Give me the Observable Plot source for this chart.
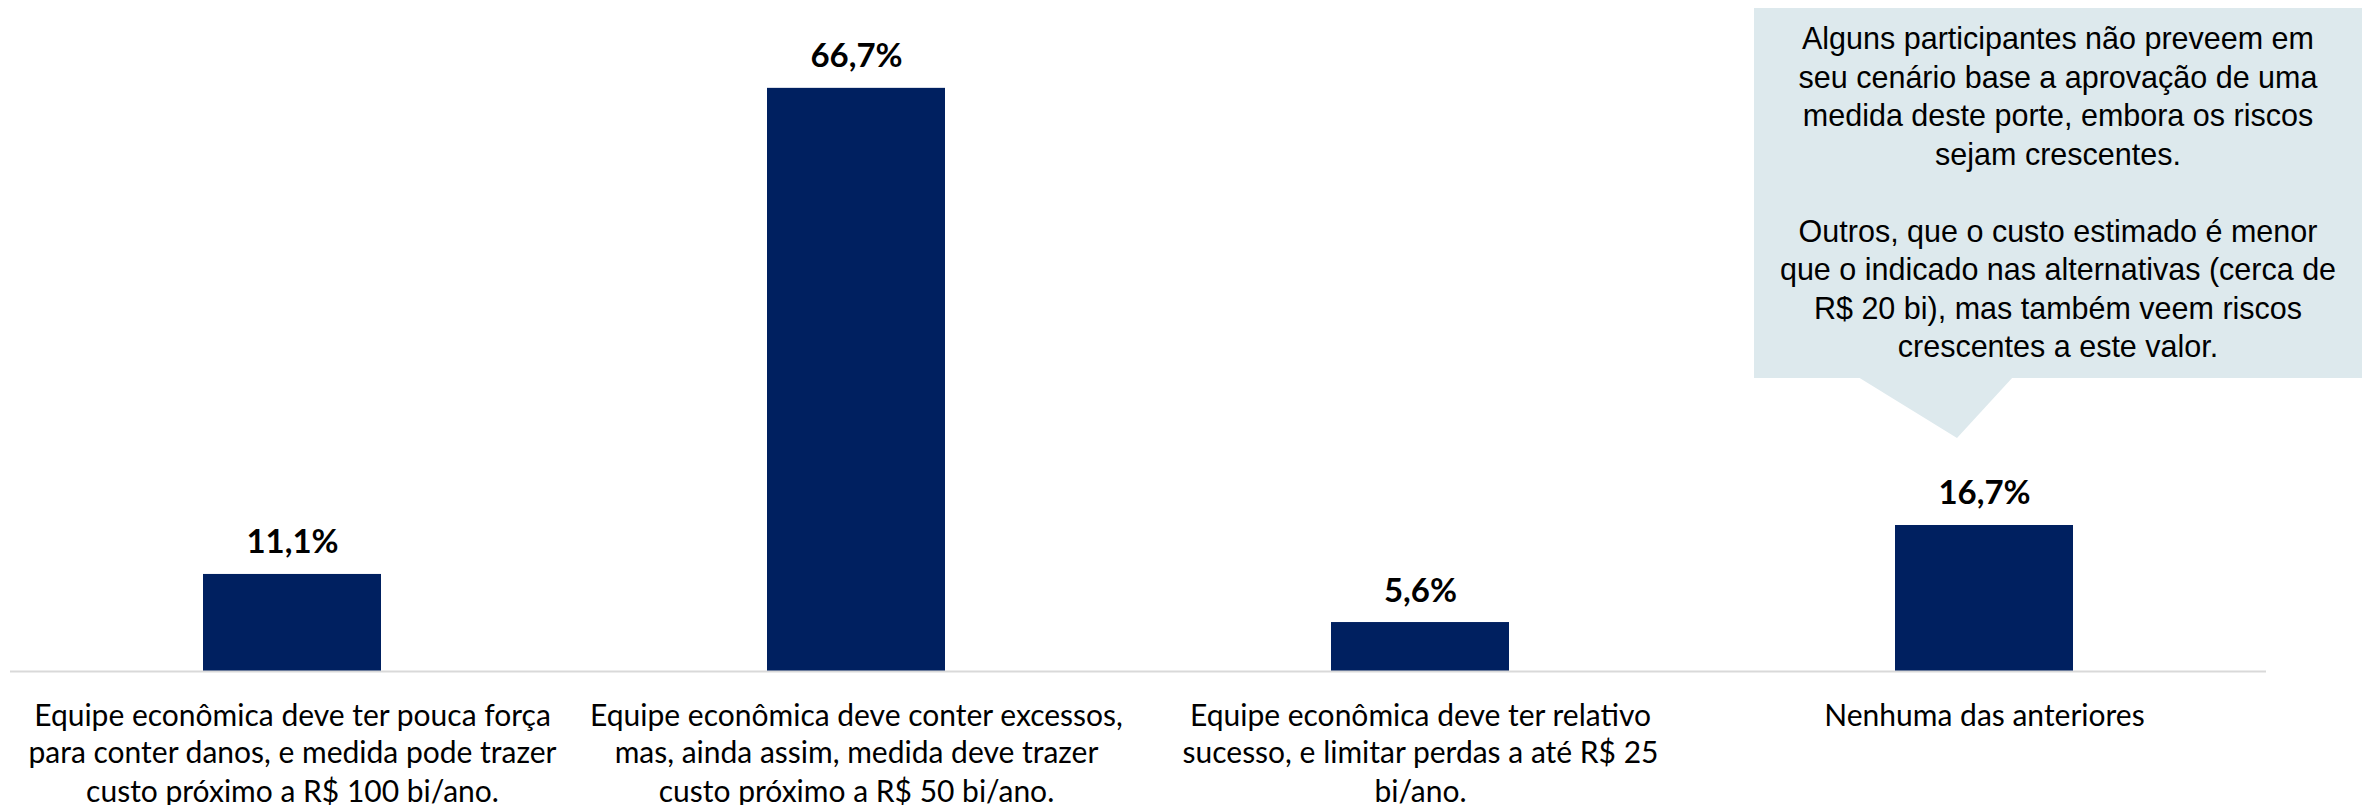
<!DOCTYPE html>
<html>
<head>
<meta charset="utf-8">
<script src="https://cdn.jsdelivr.net/npm/d3@7"></script>
<script src="https://cdn.jsdelivr.net/npm/@observablehq/plot@0.6"></script>
<style>
html, body { margin: 0; padding: 0; background: #fff; overflow: hidden; }
#wrap { position: relative; width: 2362px; height: 805px; }
#chart { position: absolute; left: 0; top: 0; }
#callout {
  position: absolute; left: 1754px; top: 8px; width: 608px; height: 370px;
  background: #dde9ed; box-sizing: border-box; padding-top: 11px;
  font-family: "Liberation Sans", Arial, sans-serif; font-size: 30.5px; line-height: 38.5px;
  text-align: center; color: #000; white-space: nowrap;
}
#pointer {
  position: absolute; left: 1858px; top: 377px; width: 155px; height: 61px;
  background: #dde9ed; clip-path: polygon(0 0, 100% 0, 99px 100%);
}
</style>
</head>
<body>
<div id="wrap">
  <div id="chart"></div>
  <div id="callout"></div>
  <div id="pointer"></div>
</div>
<script>
const categories = [
  "Equipe econômica deve ter pouca força\npara conter danos, e medida pode trazer\ncusto próximo a R$ 100 bi/ano.",
  "Equipe econômica deve conter excessos,\nmas, ainda assim, medida deve trazer\ncusto próximo a R$ 50 bi/ano.",
  "Equipe econômica deve ter relativo\nsucesso, e limitar perdas a até R$ 25\nbi/ano.",
  "Nenhuma das anteriores"
];
const values = [11.1, 66.7, 5.6, 16.7];
const valueLabels = ["11,1%", "66,7%", "5,6%", "16,7%"];
const calloutLines = [
  "Alguns participantes não preveem em",
  "seu cenário base a aprovação de uma",
  "medida deste porte, embora os riscos",
  "sejam crescentes.",
  "",
  "Outros, que o custo estimado é menor",
  "que o indicado nas alternativas (cerca de",
  "R$ 20 bi), mas também veem riscos",
  "crescentes a este valor."
];

const data = categories.map((c, i) => ({ category: c, value: values[i], label: valueLabels[i] }));

const chart = Plot.plot({
  width: 2362,
  height: 805,
  marginLeft: 10,
  marginRight: 96,
  marginTop: 59,
  marginBottom: 134,
  style: { fontFamily: "Lato, 'Open Sans', sans-serif", background: "transparent", color: "#000" },
  x: { domain: categories, paddingInner: 0.684, paddingOuter: 0.342 },
  y: { domain: [0, 70], axis: null },
  marks: [
    Plot.barY(data, { x: "category", y: "value", fill: "#002060" }),
    Plot.ruleY([0], { stroke: "#d9d9d9", strokeWidth: 2 }),
    Plot.text(data, {
      x: "category", y: "value", text: "label",
      dy: -21, lineAnchor: "bottom",
      fontWeight: "bold", fontSize: 33, fill: "#000"
    }),
    Plot.axisX({
      tickSize: 0, tickPadding: 27, fontSize: 30, lineHeight: 1.267,
      lineAnchor: "top", fill: "#000", label: null
    })
  ]
});
document.getElementById("chart").appendChild(chart);

const callout = document.getElementById("callout");
calloutLines.forEach((line) => {
  const div = document.createElement("div");
  div.textContent = line === "" ? "\u00a0" : line;
  callout.appendChild(div);
});
</script>
</body>
</html>
